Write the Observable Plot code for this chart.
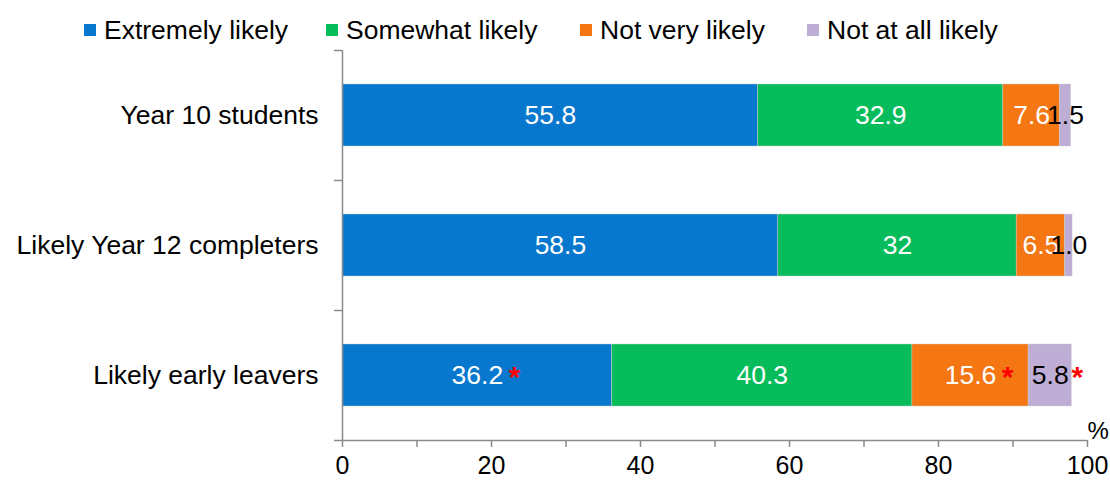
<!DOCTYPE html>
<html>
<head>
<meta charset="utf-8">
<script src="https://cdn.jsdelivr.net/npm/d3@7"></script>
<script src="https://cdn.jsdelivr.net/npm/@observablehq/plot@0.6"></script>
<style>
  html, body { margin: 0; padding: 0; background: #fff; }
  body { width: 1110px; height: 480px; overflow: hidden; font-family: "Liberation Sans", Arial, sans-serif; }
  #legend { position: relative; height: 40px; }
  .item { position: absolute; top: 14px; height: 32px; display: flex; align-items: center; font-size: 26.5px; color: #000; white-space: nowrap; }
  .sw { width: 12px; height: 12px; margin-right: 8px; }
  svg { display: block; }
</style>
</head>
<body>
<div id="legend"></div>
<div id="chart"></div>
<script>
const categories = ["Year 10 students", "Likely Year 12 completers", "Likely early leavers"];
const series = ["Extremely likely", "Somewhat likely", "Not very likely", "Not at all likely"];
const colors = ["#0877CE", "#07BC5A", "#F47713", "#BEADD4"];
const extremelyLikely = [55.8, 58.5, 36.2];
const somewhatLikely = [32.9, 32, 40.3];
const notVeryLikely = [7.6, 6.5, 15.6];
const notAtAllLikely = [1.5, 1.0, 5.8];
const extremelyLabels = ["55.8", "58.5", "36.2"];
const somewhatLabels = ["32.9", "32", "40.3"];
const notVeryLabels = ["7.6", "6.5", "15.6"];
const notAtAllLabels = ["1.5", "1.0", "5.8"];
const extremelySig = [false, false, true];
const somewhatSig = [false, false, false];
const notVerySig = [false, false, true];
const notAtAllSig = [false, false, true];
const xTicks = [0, 10, 20, 30, 40, 50, 60, 70, 80, 90, 100];

const values = [extremelyLikely, somewhatLikely, notVeryLikely, notAtAllLikely];
const labels = [extremelyLabels, somewhatLabels, notVeryLabels, notAtAllLabels];
const sigs = [extremelySig, somewhatSig, notVerySig, notAtAllSig];

const rows = [];
categories.forEach((cat, ci) => {
  let acc = 0;
  series.forEach((s, si) => {
    const v = values[si][ci];
    rows.push({cat, series: s, value: v, x1: acc, x2: acc + v, mid: acc + v / 2,
               label: labels[si][ci], sig: sigs[si][ci], dark: si === 3});
    acc += v;
  });
});

// Legend
const legend = document.getElementById("legend");
const legendLeft = [84, 326, 580, 807];
series.forEach((s, i) => {
  const it = document.createElement("div");
  it.className = "item";
  it.style.left = legendLeft[i] + "px";
  const sw = document.createElement("span");
  sw.className = "sw";
  sw.style.background = colors[i];
  it.appendChild(sw);
  it.appendChild(document.createTextNode(s));
  legend.appendChild(it);
});

const axisGray = "#8a8a8a";
const font = 26.5;

const starMarks = rows.filter(d => d.sig).map(d =>
  Plot.text([d], {x: "mid", y: "cat", text: () => "*", fill: "#FF0000", fontSize: 30, fontWeight: "bold",
                  dx: d.label.length * 10 - 3, dy: 2})
);

const chart = Plot.plot({
  width: 1110,
  height: 440,
  marginTop: 10,
  marginBottom: 40,
  marginLeft: 342,
  marginRight: 23,
  style: {fontFamily: "'Liberation Sans', Arial, sans-serif", color: "#000", background: "#fff"},
  x: {domain: [0, 100], label: null},
  y: {domain: categories, paddingInner: 0.52, paddingOuter: 0.26, label: null},
  color: {domain: series, range: colors},
  marks: [
    Plot.barX(rows, {x1: "x1", x2: "x2", y: "cat", fill: "series", stroke: "#d0d0d0", strokeWidth: 0.6, strokeOpacity: 0.7}),
    Plot.text(rows.filter(d => !d.dark), {x: "mid", y: "cat", text: "label", fill: "white", fontSize: font}),
    Plot.text(rows.filter(d => d.dark), {x: "mid", y: "cat", text: "label", fill: "black", fontSize: font}),
    ...starMarks,
    Plot.ruleX([0], {stroke: axisGray, strokeWidth: 1.5}),
    Plot.ruleY([categories[2]], {stroke: axisGray, strokeWidth: 1.5, dy: 65}),
    Plot.axisY({tickSize: 0, tickPadding: 24, fontSize: font, fill: "#000", label: null}),
    Plot.axisY({tickSize: 8, tickFormat: () => "", dy: 65, stroke: axisGray, strokeWidth: 1.5, label: null}),
    Plot.axisY({ticks: [categories[0]], tickSize: 8, tickFormat: () => "", dy: -65, stroke: axisGray, strokeWidth: 1.5, label: null}),
    Plot.axisX({ticks: xTicks, tickSize: 7, tickPadding: 9, fontSize: 25, fill: "#000", label: null,
                stroke: axisGray, strokeWidth: 1.5, tickFormat: d => d % 20 === 0 ? String(d) : ""}),
    Plot.text(["%"], {frameAnchor: "bottom-right", text: d => d, textAnchor: "start", dx: 0, dy: -2, fontSize: 24, fill: "#000"})
  ]
});
document.getElementById("chart").appendChild(chart);
</script>
</body>
</html>
